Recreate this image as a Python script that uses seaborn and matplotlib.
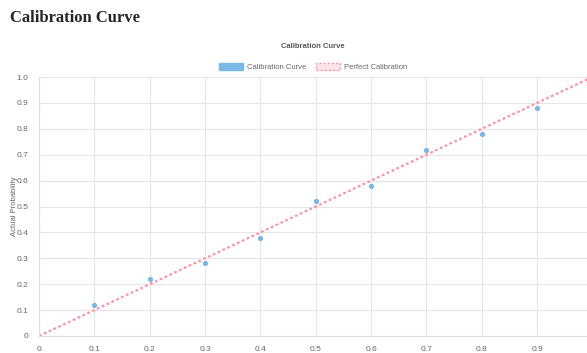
import numpy as np
import pandas as pd
import matplotlib.pyplot as plt
import seaborn as sns
from matplotlib.patches import Patch

# DADOS
predicted = [0.1, 0.2, 0.3, 0.4, 0.5, 0.6, 0.7, 0.8, 0.9]
actual = [0.12, 0.22, 0.28, 0.38, 0.52, 0.58, 0.72, 0.78, 0.88]
perfect_x = [0, 1]
perfect_y = [0, 1]
x_ticks = [0, 0.1, 0.2, 0.3, 0.4, 0.5, 0.6, 0.7, 0.8, 0.9]
y_ticks = [0, 0.1, 0.2, 0.3, 0.4, 0.5, 0.6, 0.7, 0.8, 0.9, 1.0]

df = pd.DataFrame({'Predicted': predicted, 'Actual': actual})
df_perfect = pd.DataFrame({'x': perfect_x, 'y': perfect_y})

sns.set_style('white')
plt.rcParams['font.family'] = ['Liberation Sans', 'DejaVu Sans']

blue = '#7ab8e8'
pink = '#ff8fa8'

fig = plt.figure(figsize=(5.87, 3.53), dpi=100)
ax = fig.add_axes([39 / 587, 17 / 353, 548 / 587, 259 / 353])

sns.lineplot(data=df_perfect, x='x', y='y', ax=ax, color=pink, lw=1.6,
             linestyle=(0, (1.2, 1.2)), zorder=2)
sns.scatterplot(data=df, x='Predicted', y='Actual', ax=ax, color=blue,
                s=10, edgecolor='#5aa6e0', linewidth=0.4, zorder=3)

ax.set_xlim(0, 0.99)
ax.set_ylim(0, 1.0)
ax.set_xticks(x_ticks)
ax.set_xticklabels(['0', '0.1', '0.2', '0.3', '0.4', '0.5', '0.6', '0.7', '0.8', '0.9'])
ax.set_yticks(y_ticks)
ax.set_yticklabels(['0', '0.1', '0.2', '0.3', '0.4', '0.5', '0.6', '0.7', '0.8', '0.9', '1.0'])
ax.grid(True, color='#e6e6e6', lw=0.8)
ax.tick_params(axis='both', labelsize=6, colors='#666666', length=4, width=0.8)
ax.tick_params(axis='both', color='#e6e6e6')
for s in ['top', 'right']:
    ax.spines[s].set_visible(False)
for s in ['left', 'bottom']:
    ax.spines[s].set_color('#e0e0e0')
ax.set_xlabel('')
ax.set_ylabel('Actual Probability', fontsize=5.5, color='#666666')
ax.yaxis.set_label_coords(-21 / 548, 0.5)

fig.text(0.5 * (39 + 587) / 587 - 0.0, 1 - 47 / 353, 'Calibration Curve', fontsize=5.5,
         fontweight='bold', color='#555555', ha='center', va='center')

handles = [Patch(facecolor=blue, edgecolor=blue, label='Calibration Curve'),
           Patch(facecolor='#ffe3e9', edgecolor=pink, linestyle=(0, (1.5, 1.5)), lw=1,
                 label='Perfect Calibration')]
ax.legend(handles=handles, loc='center', bbox_to_anchor=(0.5, 1 + 10 / 259), ncol=2,
          frameon=False, fontsize=5.5, handlelength=3.2, handleheight=1.0,
          columnspacing=1.2, handletextpad=0.5, labelcolor='#666666',
          borderpad=0, borderaxespad=0)

fig.text(10 / 587, 1 - 18 / 353, 'Calibration Curve', fontsize=12, fontweight='bold',
         family=['Liberation Serif', 'DejaVu Serif'], va='center', ha='left')

fig.savefig('out.png', dpi=100)
